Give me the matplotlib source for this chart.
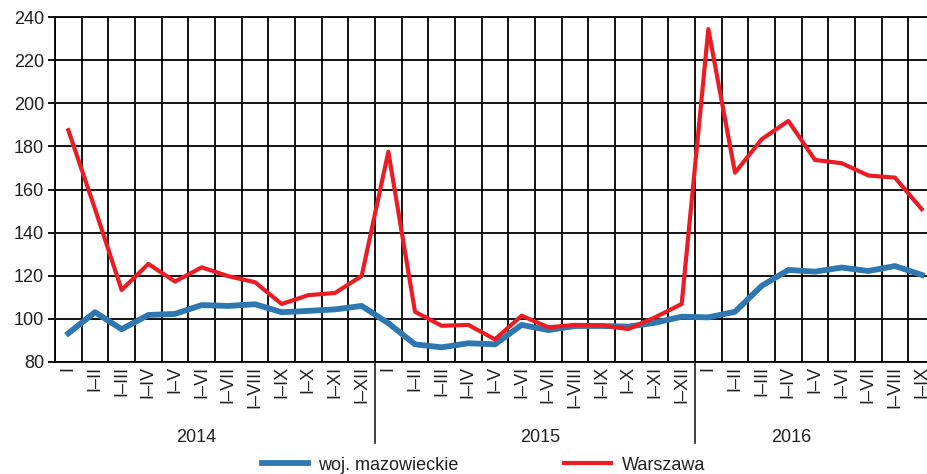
import numpy as np
import matplotlib
matplotlib.use("Agg")
import matplotlib.pyplot as plt
from matplotlib.lines import Line2D

plt.rcParams['font.family'] = ['Liberation Sans', 'DejaVu Sans']

# etykiety okresów (narastająco)
months = ['I', 'I–II', 'I–III', 'I–IV', 'I–V', 'I–VI', 'I–VII', 'I–VIII',
          'I–IX', 'I–X', 'I–XI', 'I–XII']
tick_labels = months + months + months[:9]
years = ['2014', '2015', '2016']
year_pos = [4.8, 17.7, 27.1]

mazowieckie = [93.3, 103.1, 95.2, 101.8, 102.3, 106.4, 106.0, 106.8, 103.1, 103.7, 104.4, 106.0,
               98.0, 88.2, 86.8, 88.7, 88.2, 97.2, 94.8, 96.7, 96.7, 96.4, 98.2, 101.0,
               100.7, 103.3, 115.3, 122.7, 121.9, 123.8, 122.2, 124.5, 120.4]
warszawa = [187.5, 151.0, 113.4, 125.5, 117.3, 123.9, 119.8, 117.0, 106.9, 111.0, 112.0, 119.9,
            177.5, 103.3, 96.8, 97.2, 90.5, 101.5, 96.1, 97.2, 97.0, 95.3, 100.7, 106.9,
            234.4, 167.8, 183.3, 191.8, 173.7, 172.2, 166.5, 165.5, 150.9]

blue = '#2F77B1'
red = '#EC1C24'
txt = '#231F20'

fig = plt.figure(figsize=(9.27, 4.74), dpi=100)
ax = fig.add_axes([55 / 927, 1 - 362 / 474, 1 - 55 / 927, 345 / 474])

x = np.arange(len(tick_labels))
ax.plot(x, mazowieckie, color=blue, lw=4.2, solid_joinstyle='round', zorder=3)
ax.plot(x, warszawa, color=red, lw=3.0, solid_joinstyle='round', zorder=4)

ax.set_xlim(-0.5, 32.2)
ax.set_ylim(80, 240)
ax.set_yticks(np.arange(80, 241, 20))
ax.set_xticks(x)
ax.set_xticklabels(tick_labels, rotation=90, va='top', ha='center', fontsize=13, color=txt)
ax.set_xticks(np.arange(-0.5, 32.5, 1), minor=True)
ax.tick_params(axis='x', which='both', length=0, pad=3)
ax.tick_params(axis='y', length=5, width=1.3, color='black', pad=3, labelsize=13, labelcolor=txt)
ax.grid(axis='y', color='black', lw=1.3, zorder=1)
ax.grid(axis='x', which='minor', color='black', lw=1.3, zorder=1)
ax.spines['right'].set_visible(False)
for s in ['left', 'bottom', 'top']:
    ax.spines[s].set_linewidth(1.3)

# separatory lat
for sep in [11.5, 23.5]:
    ax.axvline(sep, ymin=-0.235, ymax=0, color=txt, lw=1.2, clip_on=False)
trans = ax.get_xaxis_transform()
for yr, pos in zip(years, year_pos):
    ax.text(pos, -0.22, yr, transform=trans, ha='center', va='center', fontsize=13, color=txt)

# legenda
fig.add_artist(Line2D([262 / 927, 308 / 927], [1 - 463 / 474] * 2, color=blue, lw=4.2))
fig.text(318 / 927, 1 - 465 / 474, 'woj. mazowieckie', fontsize=13, color=txt, va='center')
fig.add_artist(Line2D([564 / 927, 611 / 927], [1 - 463 / 474] * 2, color=red, lw=3.0))
fig.text(622 / 927, 1 - 465 / 474, 'Warszawa', fontsize=13, color=txt, va='center')

fig.savefig('out.png', dpi=100)
